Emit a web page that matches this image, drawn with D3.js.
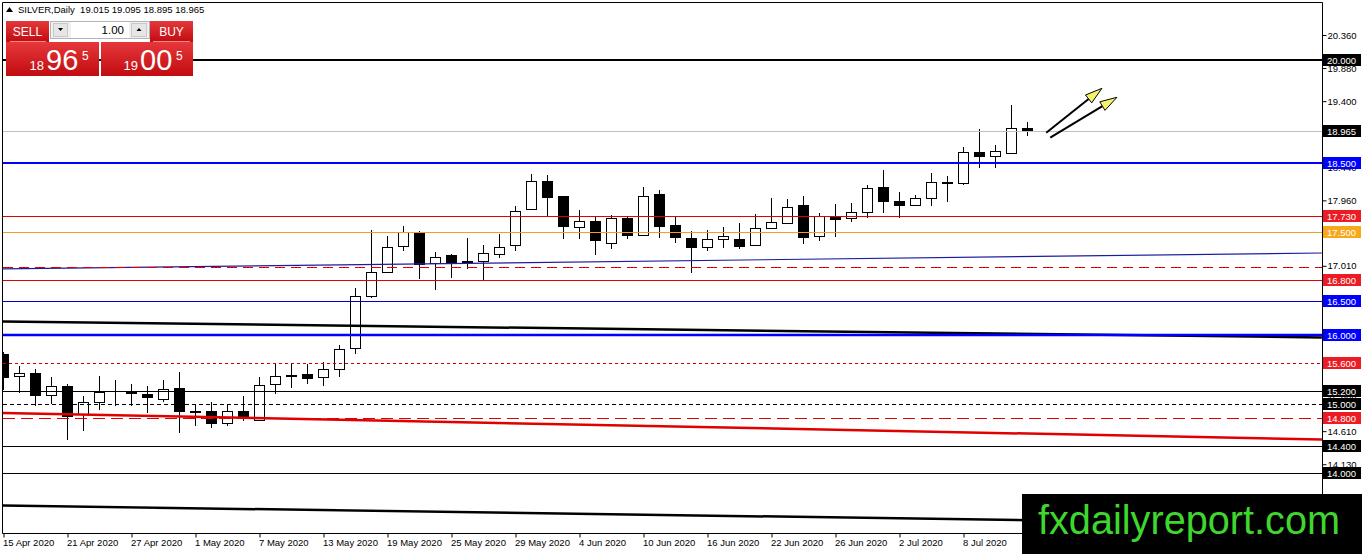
<!DOCTYPE html>
<html>
<head>
<meta charset="utf-8">
<script src="https://cdn.jsdelivr.net/npm/d3@7.9.0/dist/d3.min.js"></script>
<style>
  html, body { margin: 0; padding: 0; background: #fff; }
  svg { display: block; font-family: "Liberation Sans", Arial, sans-serif; }
</style>
</head>
<body>
<svg id="chart" width="1362" height="554"></svg>
<script>
// ---- data ----
const symbol = 'SILVER,Daily';

const opens  = [15.73, 15.41, 15.45, 15.13, 15.27, 14.86, 15.04, 15.15, 15.18, 15.15,
                15.08, 15.24, 14.90, 14.90, 14.73, 14.90, 14.77, 15.29, 15.425, 15.44,
                15.39, 15.51, 15.81, 16.57, 16.92, 17.29, 17.50, 17.05, 17.16, 17.08,
                17.08, 17.19, 17.31, 17.83, 18.24, 18.02, 17.58, 17.66, 17.35, 17.71,
                17.47, 18.05, 17.60, 17.42, 17.29, 17.40, 17.40, 17.32, 17.56, 17.64,
                17.89, 17.45, 17.74, 17.70, 17.79, 18.15, 17.95, 17.89, 17.99, 18.225,
                18.21, 18.66, 18.60, 18.65, 19.015];
const highs  = [15.76, 15.56, 15.51, 15.40, 15.29, 15.12, 15.41, 15.35, 15.29, 15.26,
                15.35, 15.47, 15.00, 15.03, 15.00, 15.12, 15.39, 15.59, 15.59, 15.585,
                15.61, 15.86, 16.69, 17.53, 17.44, 17.59, 17.52, 17.21, 17.18, 17.41,
                17.31, 17.47, 17.88, 18.34, 18.33, 18.03, 17.82, 17.72, 17.75, 17.73,
                18.16, 18.11, 17.72, 17.52, 17.53, 17.58, 17.63, 17.76, 17.99, 17.98,
                18.03, 17.77, 17.91, 17.92, 18.19, 18.40, 18.08, 18.04, 18.35, 18.32,
                18.73, 18.99, 18.76, 19.34, 19.095];
const lows   = [15.21, 15.16, 14.97, 15.00, 14.48, 14.61, 14.91, 14.97, 14.97, 14.87,
                15.04, 14.58, 14.69, 14.65, 14.68, 14.76, 14.76, 15.15, 15.23, 15.29,
                15.26, 15.40, 15.73, 16.55, 16.90, 17.22, 16.82, 16.66, 16.84, 16.97,
                16.80, 17.12, 17.22, 17.82, 17.74, 17.40, 17.40, 17.16, 17.26, 17.40,
                17.46, 17.42, 17.34, 16.90, 17.23, 17.27, 17.25, 17.31, 17.55, 17.61,
                17.32, 17.37, 17.43, 17.64, 17.71, 17.78, 17.71, 17.88, 17.88, 17.93,
                18.19, 18.43, 18.43, 18.64, 18.895];
const closes = [15.40, 15.45, 15.13, 15.26, 14.84, 15.03, 15.18, 15.15, 15.16, 15.10,
                15.22, 14.91, 14.895, 14.73, 14.90, 14.82, 15.28, 15.41, 15.41, 15.38,
                15.51, 15.80, 16.57, 16.92, 17.28, 17.50, 17.04, 17.14, 17.06, 17.07,
                17.19, 17.29, 17.80, 18.24, 18.01, 17.59, 17.66, 17.38, 17.71, 17.47,
                18.03, 17.58, 17.43, 17.29, 17.40, 17.44, 17.30, 17.56, 17.64, 17.87,
                17.43, 17.74, 17.69, 17.79, 18.14, 17.94, 17.89, 17.99, 18.22, 18.215,
                18.66, 18.60, 18.67, 19.01, 18.965];

// date labels, one every 4th bar
const dateLabels = ['15 Apr 2020', '21 Apr 2020', '27 Apr 2020', '1 May 2020', '7 May 2020',
                    '13 May 2020', '19 May 2020', '25 May 2020', '29 May 2020', '4 Jun 2020',
                    '10 Jun 2020', '16 Jun 2020', '22 Jun 2020', '26 Jun 2020', '2 Jul 2020',
                    '8 Jul 2020'];

// right price scale ticks
const tickPrices = [20.360, 19.880, 19.400, 18.920, 18.440, 17.960, 17.480, 17.010,
                    16.530, 16.050, 15.570, 15.090, 14.610, 14.130, 13.650];

// horizontal support / resistance levels
const levelPrices = [20.0, 18.5, 17.73, 17.5, 17.0, 16.8, 16.5, 16.0, 15.6, 15.2, 15.0, 14.8, 14.4, 14.0];
const bidPrice = 18.965;
const askPrice = 19.005;
const lotSize = 1.00;

// trend lines: [bar index, price] at start and end
const trendFromBar = [-0.22, -0.22, -0.22, -0.22];
const trendFromPrice = [16.964, 16.202, 14.874, 13.531];
const trendToBar = [82.4, 82.4, 82.4, 82.4];
const trendToPrice = [17.196, 15.970, 14.489, 13.258];

// the two "up" arrows drawn on the chart
const arrowFromBar = [65.17, 65.42];
const arrowFromPrice = [18.942, 18.870];
const arrowToBar = [68.65, 69.59];
const arrowToPrice = [19.586, 19.456];

const watermark = 'fxdailyreport.com';


// ---- layout ----
const svg = d3.select('#chart');
const plotLeft = 3, plotRight = 1322, plotTop = 2, plotBottom = 533;

// 20.360 sits at y=35, ~68.9px per 1.000
let y = d3.scaleLinear().domain([13.132, 20.839]).range([plotBottom, plotTop]);
// 16px per bar, first bar centred at x=3.5
let x = d3.scaleLinear().domain([0, 1]).range([3.5, 19.5]);

svg.append('rect').attr('width', 1362).attr('height', 554).attr('fill', '#fff');

let defs = svg.append('defs');
defs.append('clipPath').attr('id', 'plotClip')
    .append('rect')
    .attr('x', plotLeft).attr('y', plotTop)
    .attr('width', plotRight - plotLeft).attr('height', plotBottom - plotTop);

let grad = defs.append('linearGradient').attr('id', 'redBtn')
    .attr('x1', 0).attr('y1', 0).attr('x2', 0).attr('y2', 1);
grad.append('stop').attr('offset', '0%').attr('stop-color', '#e5383b');
grad.append('stop').attr('offset', '100%').attr('stop-color', '#c10b10');

let plot = svg.append('g').attr('clip-path', 'url(#plotClip)');


// ---- candles ----
let bars = d3.range(opens.length).map((i) => {
    return { i: i, o: opens[i], h: highs[i], l: lows[i], c: closes[i] };
});

plot.selectAll('line.wick')
    .data(bars)
    .join('line')
    .attr('class', 'wick')
    .attr('x1', (d) => x(d.i)).attr('x2', (d) => x(d.i))
    .attr('y1', (d) => Math.round(y(d.h)))
    .attr('y2', (d) => Math.round(y(d.l)))
    .attr('stroke', '#000')
    .attr('stroke-width', 1);

plot.selectAll('rect.body')
    .data(bars.filter((d) => d.o !== d.c))
    .join('rect')
    .attr('class', 'body')
    .attr('x', (d) => x(d.i) - 5)
    .attr('width', 10)
    .attr('y', (d) => Math.round(y(Math.max(d.o, d.c))) + 0.5)
    .attr('height', (d) => Math.max(1, Math.round(Math.abs(y(d.o) - y(d.c)))))
    .attr('fill', (d) => d.c > d.o ? '#fff' : '#000')
    .attr('stroke', '#000')
    .attr('stroke-width', 1);


// ---- trend lines ----
const trendLook = [
    { stroke: '#1c1ca0', w: 1.2 },
    { stroke: '#000', w: 2.5 },
    { stroke: '#e00000', w: 2.5 },
    { stroke: '#000', w: 2.5 },
];
trendFromPrice.forEach((p, idx) => {
    plot.append('line')
        .attr('x1', x(trendFromBar[idx])).attr('y1', y(p))
        .attr('x2', x(trendToBar[idx])).attr('y2', y(trendToPrice[idx]))
        .attr('stroke', trendLook[idx].stroke)
        .attr('stroke-width', trendLook[idx].w);
});


// ---- horizontal levels ----
const levelLook = [
    { stroke: '#000', w: 2, box: '#000' },
    { stroke: '#0000ff', w: 2, box: '#0000ff' },
    { stroke: '#e00000', w: 1, box: '#ec1c24' },
    { stroke: '#f0a020', w: 1, box: '#f7a81b' },
    { stroke: '#e00000', w: 1, dash: '10,6', box: null },
    { stroke: '#e00000', w: 1, box: '#ec1c24' },
    { stroke: '#0000c8', w: 1, box: '#0000ff' },
    { stroke: '#0000ff', w: 2.5, box: '#0000ff' },
    { stroke: '#d00000', w: 1, dash: '3,3', box: '#ec1c24' },
    { stroke: '#000', w: 1, box: '#000' },
    { stroke: '#000', w: 1, dash: '4,3', box: '#000' },
    { stroke: '#e00000', w: 1, dash: '12,6', box: '#ec1c24' },
    { stroke: '#000', w: 1, box: '#000' },
    { stroke: '#000', w: 1, box: '#000' },
];

// bid line (grey)
plot.append('line')
    .attr('x1', plotLeft).attr('x2', plotRight)
    .attr('y1', Math.round(y(bidPrice)) + 0.5).attr('y2', Math.round(y(bidPrice)) + 0.5)
    .attr('stroke', '#c0c0c0');

levelPrices.forEach((p, idx) => {
    let look = levelLook[idx];
    let yy = look.w % 2 === 1 ? Math.round(y(p)) + 0.5 : Math.round(y(p));
    plot.append('line')
        .attr('x1', plotLeft).attr('x2', plotRight)
        .attr('y1', yy).attr('y2', yy)
        .attr('stroke', look.stroke)
        .attr('stroke-width', look.w)
        .attr('stroke-dasharray', look.dash || null);
});


// ---- arrows ----
arrowFromBar.forEach((b, idx) => {
    let x0 = x(b), y0 = y(arrowFromPrice[idx]);
    let x1 = x(arrowToBar[idx]), y1 = y(arrowToPrice[idx]);
    let dx = x1 - x0, dy = y1 - y0;
    let len = Math.hypot(dx, dy);
    let ux = dx / len, uy = dy / len;
    let headLen = 17, half = 5;
    let bx = x1 - ux * headLen, by = y1 - uy * headLen;
    plot.append('line')
        .attr('x1', x0).attr('y1', y0).attr('x2', bx).attr('y2', by)
        .attr('stroke', '#000').attr('stroke-width', 2);
    let pts = [[x1, y1], [bx - uy * half, by + ux * half], [bx + uy * half, by - ux * half]];
    plot.append('polygon')
        .attr('points', pts.map((q) => q.join(',')).join(' '))
        .attr('fill', '#f3f36a')
        .attr('stroke', '#000')
        .attr('stroke-width', 1);
});


// ---- frame ----
svg.append('path')
    .attr('d', `M${plotLeft - 0.5},${plotBottom + 0.5}V${plotTop + 0.5}H${plotRight + 0.5}V${plotBottom + 0.5}H${plotLeft - 0.5}`)
    .attr('fill', 'none')
    .attr('stroke', '#000');


// ---- price axis (right) ----
let labelRows = levelPrices.map((p, idx) => ({ p: p, box: levelLook[idx].box }))
    .filter((d) => d.box);
labelRows.push({ p: bidPrice, box: '#000' });

// MT4 hides the scale number when a level label sits right on top of it
let covered = (t) => labelRows.some((d) => Math.abs(y(d.p) - y(t)) < 4);

let yAxis = svg.append('g')
    .attr('transform', `translate(${plotRight + 0.5},0)`)
    .call(d3.axisRight(y).tickValues(tickPrices).tickSize(4).tickPadding(1).tickSizeOuter(0)
        .tickFormat((t) => covered(t) ? '' : d3.format('.3f')(t)));
yAxis.select('.domain').remove();
yAxis.selectAll('text').attr('font-size', 9.5).attr('font-family', '"Liberation Sans", Arial, sans-serif').attr('fill', '#000');

// level labels on the axis
let labels = svg.append('g').selectAll('g').data(labelRows).join('g')
    .attr('transform', (d) => `translate(${plotRight + 1},${Math.round(y(d.p))})`);
labels.append('rect')
    .attr('x', 0).attr('y', -6).attr('width', 38).attr('height', 12)
    .attr('fill', (d) => d.box);
labels.append('text')
    .attr('x', 4).attr('y', 3.5)
    .attr('font-size', 9.5)
    .attr('fill', '#fff')
    .text((d) => d.p.toFixed(3));


// ---- date axis (bottom) ----
let tickBars = dateLabels.map((_, k) => k * 4);
let xAxis = svg.append('g')
    .attr('transform', `translate(0,${plotBottom + 0.5})`)
    .call(d3.axisBottom(x).tickValues(tickBars).tickSize(4).tickPadding(2).tickSizeOuter(0)
        .tickFormat((d, k) => dateLabels[k]));
xAxis.select('.domain').remove();
xAxis.selectAll('text')
    .attr('text-anchor', 'start')
    .attr('x', -1)
    .attr('font-size', 9.5)
    .attr('font-family', '"Liberation Sans", Arial, sans-serif')
    .attr('fill', '#000');


// ---- header + one click trading panel ----
let last = bars[bars.length - 1];
svg.append('path').attr('d', 'M6,12 L9.5,7 L13,12 Z').attr('fill', '#000');
svg.append('text')
    .attr('x', 18).attr('y', 13)
    .attr('font-size', 9.5)
    .attr('xml:space', 'preserve')
    .text(`${symbol}  ${last.o.toFixed(3)} ${last.h.toFixed(3)} ${last.l.toFixed(3)} ${last.c.toFixed(3)}`);

let panel = svg.append('g');

// sell / buy buttons
panel.append('rect').attr('x', 6).attr('y', 21).attr('width', 43).attr('height', 21).attr('fill', 'url(#redBtn)');
panel.append('rect').attr('x', 150).attr('y', 21).attr('width', 43).attr('height', 21).attr('fill', 'url(#redBtn)');
panel.append('text').attr('x', 27.5).attr('y', 36).attr('text-anchor', 'middle')
    .attr('font-size', 12).attr('fill', '#fff').text('SELL');
panel.append('text').attr('x', 171.5).attr('y', 36).attr('text-anchor', 'middle')
    .attr('font-size', 12).attr('fill', '#fff').text('BUY');
panel.append('line').attr('x1', 10).attr('x2', 46).attr('y1', 41.5).attr('y2', 41.5).attr('stroke', '#f08a8a');
panel.append('line').attr('x1', 153).attr('x2', 190).attr('y1', 41.5).attr('y2', 41.5).attr('stroke', '#f08a8a');

// volume spinner
panel.append('rect').attr('x', 50.5).attr('y', 21.5).attr('width', 99).attr('height', 17)
    .attr('fill', '#f0f0f0').attr('stroke', '#b4b4b4');
panel.append('rect').attr('x', 53.5).attr('y', 23.5).attr('width', 14).attr('height', 13)
    .attr('fill', '#e6e6e6').attr('stroke', '#c8c8c8');
panel.append('rect').attr('x', 131.5).attr('y', 23.5).attr('width', 15).attr('height', 13)
    .attr('fill', '#e6e6e6').attr('stroke', '#c8c8c8');
panel.append('rect').attr('x', 71).attr('y', 22).attr('width', 58).attr('height', 16).attr('fill', '#fff');
panel.append('path').attr('d', 'M58,28 L63,28 L60.5,31 Z').attr('fill', '#000');
panel.append('path').attr('d', 'M136.5,31 L141.5,31 L139,28 Z').attr('fill', '#000');
panel.append('text').attr('x', 124).attr('y', 34).attr('text-anchor', 'end')
    .attr('font-size', 11.5).attr('fill', '#000').text(lotSize.toFixed(2));

// big price boxes
function priceBox(px, w, price, bigX) {
    let s = price.toFixed(3);        // e.g. "18.965"
    let head = s.slice(0, 2);
    let big = s.slice(3, 5);
    let tail = s.slice(5);
    panel.append('rect').attr('x', px).attr('y', 42).attr('width', w).attr('height', 34)
        .attr('fill', 'url(#redBtn)');
    panel.append('text').attr('x', bigX - 2).attr('y', 70).attr('text-anchor', 'end')
        .attr('font-size', 13).attr('fill', '#fff').text(head);
    panel.append('text').attr('x', bigX).attr('y', 70)
        .attr('font-size', 29).attr('fill', '#fff').text(big);
    panel.append('text').attr('x', bigX + 36).attr('y', 60)
        .attr('font-size', 12).attr('fill', '#fff').text(tail);
}
priceBox(6, 93, bidPrice, 46);
priceBox(101, 92, askPrice, 140);


// ---- watermark ----
svg.append('rect').attr('x', 1022).attr('y', 494).attr('width', 340).attr('height', 60).attr('fill', '#000');
svg.append('text')
    .attr('x', 1038).attr('y', 534)
    .attr('font-size', 41)
    .attr('fill', '#3fd62f')
    .attr('textLength', 302)
    .attr('lengthAdjust', 'spacingAndGlyphs')
    .text(watermark);
</script>
</body>
</html>
